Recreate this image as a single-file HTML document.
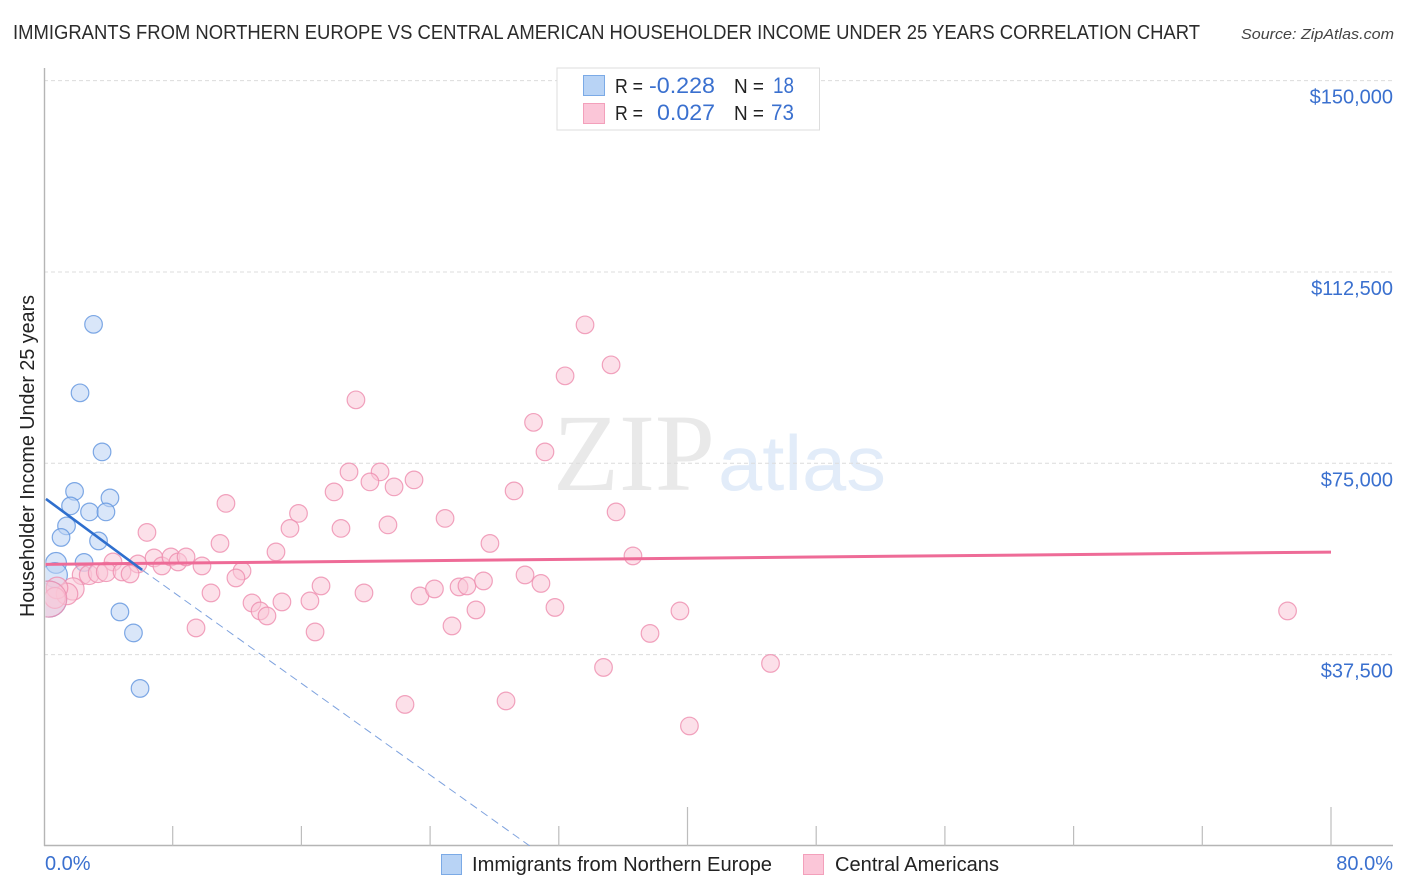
<!DOCTYPE html>
<html lang="en">
<head>
<meta charset="utf-8">
<title>Immigrants from Northern Europe vs Central American Householder Income Chart</title>
<style>
html,body{margin:0;padding:0;background:#fff;}
svg{display:block;font-family:"Liberation Sans",sans-serif;}
</style>
</head>
<body>
<svg id="chart" xmlns="http://www.w3.org/2000/svg" width="1406" height="892" viewBox="0 0 1406 892">
  <defs>
    <clipPath id="plot-clip"><rect x="45.5" y="60" width="1350" height="786"/></clipPath>
  </defs>
  <rect x="0" y="0" width="1406" height="892" fill="#ffffff"/>
  <text x="13" y="39" font-size="20" fill="#2b2b2b" textLength="1187" lengthAdjust="spacingAndGlyphs">IMMIGRANTS FROM NORTHERN EUROPE VS CENTRAL AMERICAN HOUSEHOLDER INCOME UNDER 25 YEARS CORRELATION CHART</text>
  <text x="1394" y="39" font-size="15" font-style="italic" fill="#444444" text-anchor="end" textLength="153" lengthAdjust="spacingAndGlyphs">Source: ZipAtlas.com</text>
  <g>
    <text x="553" y="490" font-family="'Liberation Serif',serif" font-size="110" fill="#e9e9e9" textLength="162" lengthAdjust="spacingAndGlyphs">ZIP</text>
    <text x="718" y="490" font-size="78" fill="#e2ecf9" textLength="168" lengthAdjust="spacingAndGlyphs">atlas</text>
  </g>
  <g id="grid"></g>
  <g id="axes"></g>
  <g id="marks" clip-path="url(#plot-clip)"></g>
  <g>
    <rect x="557" y="68" width="262.5" height="62" fill="#ffffff" stroke="#dddddd" stroke-width="1"/>
    <rect x="583.5" y="75.5" width="21" height="20" fill="#b8d3f5" stroke="#7baae6" stroke-width="1"/>
    <rect x="583.5" y="103.5" width="21" height="20" fill="#fbc6d8" stroke="#f3a0bb" stroke-width="1"/>
    <text x="615" y="93" font-size="20" fill="#222222" textLength="28" lengthAdjust="spacingAndGlyphs">R =</text>
    <text x="649" y="93" font-size="22" fill="#3a70cf" textLength="66" lengthAdjust="spacingAndGlyphs">-0.228</text>
    <text x="734" y="93" font-size="20" fill="#222222" textLength="30" lengthAdjust="spacingAndGlyphs">N =</text>
    <text x="773" y="93" font-size="22" fill="#3a70cf" textLength="21" lengthAdjust="spacingAndGlyphs">18</text>
    <text x="615" y="120" font-size="20" fill="#222222" textLength="28" lengthAdjust="spacingAndGlyphs">R =</text>
    <text x="657" y="120" font-size="22" fill="#3a70cf" textLength="58" lengthAdjust="spacingAndGlyphs">0.027</text>
    <text x="734" y="120" font-size="20" fill="#222222" textLength="30" lengthAdjust="spacingAndGlyphs">N =</text>
    <text x="771" y="120" font-size="22" fill="#3a70cf" textLength="23" lengthAdjust="spacingAndGlyphs">73</text>
  </g>
  <text transform="translate(34,617) rotate(-90)" font-size="20" fill="#222222" textLength="322" lengthAdjust="spacingAndGlyphs">Householder Income Under 25 years</text>
  <g>
    <rect x="441.5" y="854.5" width="20" height="20" fill="#b8d3f5" stroke="#7baae6" stroke-width="1"/>
    <text x="472" y="871" font-size="20" fill="#222222" textLength="300" lengthAdjust="spacingAndGlyphs">Immigrants from Northern Europe</text>
    <rect x="803.5" y="854.5" width="20" height="20" fill="#fbc6d8" stroke="#f3a0bb" stroke-width="1"/>
    <text x="835" y="871" font-size="20" fill="#222222" textLength="164" lengthAdjust="spacingAndGlyphs">Central Americans</text>
  </g>
</svg>
<script>
// Y axis tick values and labels
const yTickValues = [37500, 75000, 112500, 150000];
const yTickLabels = ["$37,500", "$75,000", "$112,500", "$150,000"];
// X axis tick values and end labels
const xTickValues = [8, 16, 24, 32, 40, 48, 56, 64, 72, 80];
const xMajorTicks = [40, 80];
const xEndValues = [0, 80];
const xEndLabels = ["0.0%", "80.0%"];

// Immigrants from Northern Europe: share (%), income ($), relative population weight
const blueShare = [3.08, 2.24, 3.61, 1.90, 4.10, 1.65, 2.83, 3.85, 1.40, 1.06, 3.39, 0.75, 2.49, 0.68, 0.29, 4.72, 5.56, 5.97];
const blueIncome = [102230, 88800, 77236, 69493, 68218, 66650, 65474, 65474, 62730, 60475, 59789, 55476, 55575, 53100, 48400, 45871, 41754, 30875];
const blueWeight = [1, 1, 1, 1, 1, 1, 1, 1, 1, 1, 1, 1.4, 1, 2, 4.2, 1, 1, 1];

// Central Americans: share (%), income ($), relative population weight
const pinkShare = [33.63, 35.25, 32.39, 19.39, 30.43, 31.14, 18.96, 20.89, 20.26, 21.76, 23.00, 18.03, 29.22, 11.31, 15.82, 35.56, 24.93, 21.38, 15.29, 18.46, 6.40, 10.94, 27.72, 14.42, 36.61, 4.29, 5.84, 6.84, 7.33, 7.89, 8.33, 8.83, 9.82, 12.31, 11.93, 10.38, 12.93, 13.43, 13.86, 14.79, 9.45, 2.36, 2.80, 3.36, 3.86, 4.85, 5.35, 1.80, 1.43, 0.81, 0.68, 0.29, 16.53, 17.22, 19.89, 23.37, 24.27, 25.80, 26.29, 27.32, 29.90, 30.89, 31.76, 26.85, 25.36, 16.85, 37.67, 39.53, 77.30, 34.78, 45.16, 22.44, 28.72, 40.12];
const pinkIncome = [102132, 94290, 92134, 87429, 83019, 77236, 73315, 73315, 71355, 70375, 71747, 69395, 69591, 67140, 65180, 65474, 64200, 62926, 62240, 62240, 61455, 59299, 59299, 57633, 56849, 55673, 55280, 56457, 54888, 56653, 55673, 56653, 54888, 53908, 52536, 49596, 47635, 46067, 45087, 47831, 42735, 53124, 53124, 53516, 53712, 53712, 53320, 50380, 49400, 50576, 48615, 48400, 48027, 50968, 49596, 49008, 50380, 50772, 50968, 51948, 53124, 51458, 46753, 46263, 43127, 41950, 41656, 46067, 46067, 34991, 35775, 27738, 28424, 23524];
const pinkWeight = [1, 1, 1, 1, 1, 1, 1, 1, 1, 1, 1, 1, 1, 1, 1, 1, 1, 1, 1, 1, 1, 1, 1, 1, 1, 1, 1, 1, 1, 1, 1, 1, 1, 1, 1, 1, 1, 1, 1, 1, 1, 1.2, 1.2, 1.2, 1.2, 1, 1, 1.6, 1.5, 1.5, 1.4, 4.2, 1, 1, 1, 1, 1, 1, 1, 1, 1, 1, 1, 1, 1, 1, 1, 1, 1, 1, 1, 1, 1, 1];

// Trend lines: [share at start, share at end] and [income at start, income at end]
const blueTrendShare = [0.12, 6.1];
const blueTrendIncome = [68020, 54100];
const blueDashShare = [6.1, 30.2];
const blueDashIncome = [54100, 0];
const pinkTrendShare = [0, 80];
const pinkTrendIncome = [55200, 57600];

const NS = 'http://www.w3.org/2000/svg';
const xScale = v => 44 + v * (1287 / 80);
const yScale = v => 846 - v * (765.4 / 150000);
const gridG = document.getElementById('grid');
const axesG = document.getElementById('axes');
const marksG = document.getElementById('marks');

function make(parent, tag, attrs, text) {
  const el = document.createElementNS(NS, tag);
  for (const k in attrs) el.setAttribute(k, attrs[k]);
  if (text !== undefined) el.textContent = text;
  parent.appendChild(el);
  return el;
}

yTickValues.forEach((v, i) => {
  const line = make(gridG, 'line', {x1: 44, x2: 1393, y1: yScale(v), y2: yScale(v), stroke: '#dcdcdc', 'stroke-width': 1, 'stroke-dasharray': '4 3'});
  
  
  const label = make(axesG, 'text', {x: 1393, y: yScale(v) + 23, 'font-size': 20, fill: '#3a70cf', 'text-anchor': 'end'}, yTickLabels[i]);
  
  
});

const yAxisLine = make(axesG, 'line', {x1: 44.5, x2: 44.5, y1: 68, y2: 846, stroke: '#b5b5b5', 'stroke-width': 1.4});


const xAxisLine = make(axesG, 'line', {x1: 44, x2: 1393, y1: 845.5, y2: 845.5, stroke: '#b5b5b5', 'stroke-width': 1.4});



xTickValues.forEach(v => {
  const top = xMajorTicks.includes(v) ? 807 : 826;
  const tick = make(axesG, 'line', {x1: xScale(v), x2: xScale(v), y1: top, y2: 846, stroke: '#bdbdbd', 'stroke-width': 1.2});
  
  
});

xEndValues.forEach((v, i) => {
  const label = make(axesG, 'text', {x: i === 0 ? xScale(v) + 1 : xScale(v) + 62, y: 870, 'font-size': 20, fill: '#3a70cf', 'text-anchor': i === 0 ? 'start' : 'end'}, xEndLabels[i]);
  
  
});

function drawPoints(shares, incomes, weights, fill, stroke, name) {
  shares.forEach((s, i) => {
    const c = make(marksG, 'circle', {cx: xScale(s), cy: yScale(incomes[i]), r: 8.8 * Math.sqrt(weights[i]), fill: fill, 'fill-opacity': 0.55, stroke: stroke, 'stroke-opacity': 0.8, 'stroke-width': 1.2});
    
    
  });
}
drawPoints(blueShare, blueIncome, blueWeight, '#b9d2f4', '#5f94de', 'point-northern-europe');
drawPoints(pinkShare, pinkIncome, pinkWeight, '#fac6d7', '#ee8cae', 'point-central-americans');

const blueDash = make(marksG, 'line', {x1: xScale(blueDashShare[0]), y1: yScale(blueDashIncome[0]), x2: xScale(blueDashShare[1]), y2: yScale(blueDashIncome[1]), stroke: '#7ea2de', 'stroke-width': 1, 'stroke-dasharray': '8 5'});


const pinkTrend = make(marksG, 'line', {x1: xScale(pinkTrendShare[0]), y1: yScale(pinkTrendIncome[0]), x2: xScale(pinkTrendShare[1]), y2: yScale(pinkTrendIncome[1]), stroke: '#ee6b97', 'stroke-width': 3});


const blueTrend = make(marksG, 'line', {x1: xScale(blueTrendShare[0]), y1: yScale(blueTrendIncome[0]), x2: xScale(blueTrendShare[1]), y2: yScale(blueTrendIncome[1]), stroke: '#2f6fce', 'stroke-width': 2.6});


</script>
</body>
</html>
